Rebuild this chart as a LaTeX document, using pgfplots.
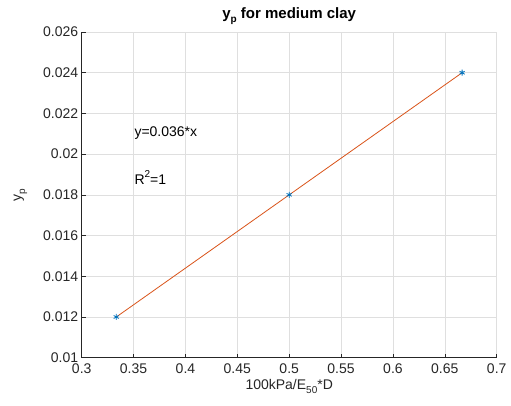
\documentclass[border=0pt]{standalone}
\usepackage{pgfplots}
\pgfplotsset{compat=1.18}
\usepackage{fontspec}
\setmainfont{Liberation Sans}
\definecolor{mblue}{rgb}{0,0.447,0.741}
\definecolor{morange}{rgb}{0.85,0.325,0.098}
\definecolor{axgray}{rgb}{0.15,0.15,0.15}
\newcommand{\msub}[1]{\raisebox{-0.55ex}{\fontsize{10}{10}\selectfont #1}}
\newcommand{\msup}[1]{\raisebox{0.9ex}{\fontsize{10}{10}\selectfont #1}}
\begin{document}
\begin{tikzpicture}
\path[use as bounding box] (-81.7pt,-47.3pt) rectangle (429.3pt,357.7pt);
\begin{axis}[
  at={(0,0)}, anchor=south west,
  scale only axis, width=415pt, height=325.7pt,
  xmin=0.3, xmax=0.7, ymin=0.01, ymax=0.026,
  xtick={0.3,0.35,...,0.71}, ytick={0.01,0.012,...,0.0261},
  xticklabels={0.3,0.35,0.4,0.45,0.5,0.55,0.6,0.65,0.7},
  yticklabels={0.01,0.012,0.014,0.016,0.018,0.02,0.022,0.024,0.026},
  scaled y ticks=false, scaled x ticks=false,
  axis x line*=bottom, axis y line*=left,
  axis line style={axgray, line width=0.6pt},
  tick style={axgray, line width=0.6pt},
  tick align=inside, major tick length=4pt,
  grid=major, major grid style={gray!25, line width=0.5pt},
  tick label style={font=\fontsize{14}{16}\selectfont, text=axgray},
  xticklabel style={yshift=-2pt},
  /pgf/number format/assume math mode=true,
  xlabel={100kPa/E\msub{50}*D},
  ylabel={y\msub{p}},
  label style={font=\fontsize{14}{16}\selectfont, text=axgray},
  title={\bfseries y\msub{\bfseries p} for medium clay},
  title style={font=\fontsize{15}{17}\selectfont, yshift=-2pt},
  xlabel style={yshift=1pt},
  ylabel style={yshift=9pt},
  clip=false,
]
\addplot[morange, line width=0.8pt] coordinates {(0.33333,0.012) (0.66667,0.024)};
\addplot[only marks, mark=asterisk, mark size=3pt, mblue, line width=0.8pt] coordinates {
(0.33333,0.012) (0.5,0.018) (0.66667,0.024)};
\node[anchor=west, font=\fontsize{14}{16}\selectfont] at (axis cs:0.3475,0.02103) {y=0.036*x};
\node[anchor=west, font=\fontsize{14}{16}\selectfont] at (axis cs:0.3475,0.01885) {R\msup{2}=1};
\end{axis}
\end{tikzpicture}
\end{document}
